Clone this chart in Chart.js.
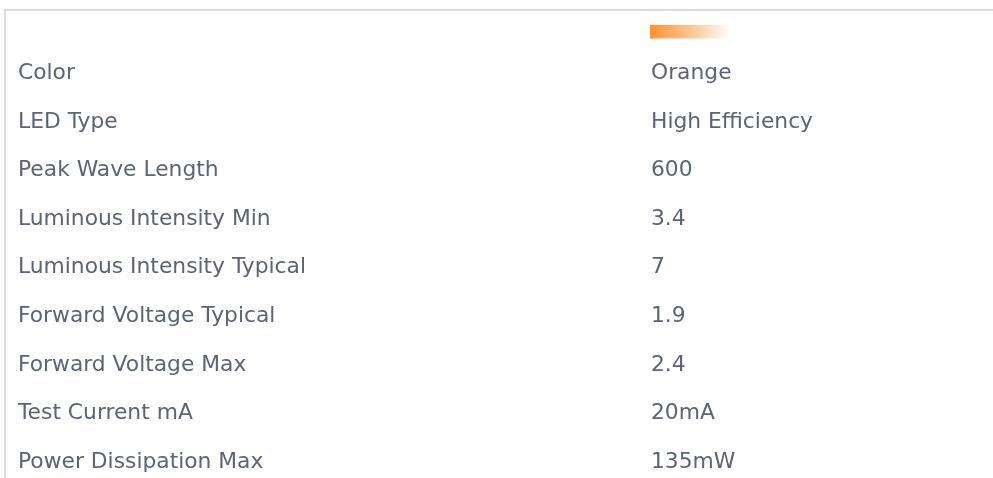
<!DOCTYPE html>
<html>
<head>
<meta charset="utf-8">
<script src="https://cdn.jsdelivr.net/npm/chart.js@4/dist/chart.umd.min.js"></script>
<style>
  body { margin: 0; background: #fff; }
  #box {
    position: absolute; left: 4px; top: 9px;
    border-top: 2px solid #dcdce6; border-left: 2px solid #dcdce6;
  }
  canvas { display: block; }
</style>
</head>
<body>
<div id="box"><canvas id="chart" width="987" height="467"></canvas></div>
<script>
// spec sheet rows: first row only holds the colour sample
const rowNames = ['', 'Color', 'LED Type', 'Peak Wave Length', 'Luminous Intensity Min',
    'Luminous Intensity Typical', 'Forward Voltage Typical', 'Forward Voltage Max',
    'Test Current mA', 'Power Dissipation Max']
const rowValues = ['', 'Orange', 'High Efficiency', '600', '3.4', '7', '1.9', '2.4',
    '20mA', '135mW']
const swatch = [1, null, null, null, null, null, null, null, null, null]
const empty = rowNames.map(() => null)

const textColor = '#5d6379'
const font = {family: 'DejaVu Sans', size: 21.8}

window.addEventListener('load', function () {
    var ctx = document.getElementById('chart').getContext('2d')

    var myChart = new Chart(ctx, {
        type: 'bar',
        data: {
            labels: rowNames,
            datasets: [
                // empty slot so the swatch sits in the lower half of its row
                {data: empty, barThickness: 13},
                {
                    data: swatch,
                    barThickness: 13,
                    backgroundColor: function (c) {
                        let chart = c.chart
                        if (!chart.chartArea) return '#ff9433'
                        let x = chart.scales.x
                        let g = chart.ctx.createLinearGradient(x.getPixelForValue(0), 0, x.getPixelForValue(1), 0)
                        g.addColorStop(0, '#ff9230')
                        g.addColorStop(0.5, '#ffc48c')
                        g.addColorStop(1, '#fffbf7')
                        return g
                    }
                }
            ]
        },
        options: {
            indexAxis: 'y',
            responsive: false,
            animation: false,
            layout: {padding: {left: 12, top: 12, right: 0, bottom: 16}},
            plugins: {legend: {display: false}, tooltip: {enabled: false}},
            scales: {
                x: {display: false, min: 0, max: 4.4},
                y: {
                    type: 'category',
                    labels: rowValues,
                    offset: false,
                    weight: 0,
                    grid: {display: false, drawTicks: false},
                    border: {display: false},
                    ticks: {mirror: true, padding: 1, autoSkip: false, color: textColor, font: font}
                },
                names: {
                    type: 'category',
                    axis: 'y',
                    position: 'left',
                    labels: rowNames,
                    offset: false,
                    weight: 1,
                    afterFit: function (s) { s.width = 630 },
                    grid: {display: false, drawTicks: false},
                    border: {display: false},
                    ticks: {crossAlign: 'far', padding: 0, autoSkip: false, color: textColor, font: font}
                }
            }
        }
    })
})
</script>
</body>
</html>
